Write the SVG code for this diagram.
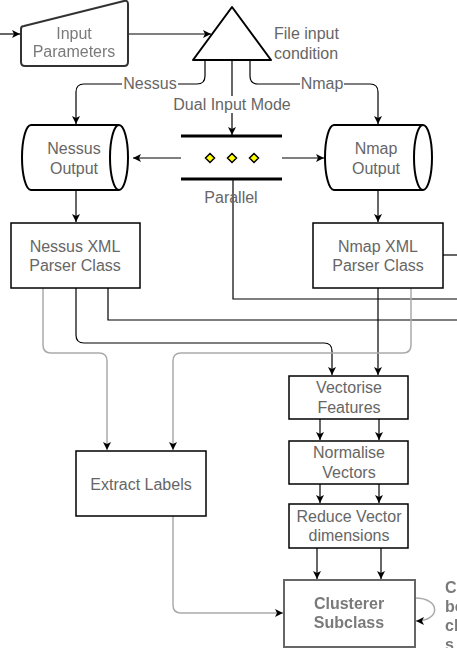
<svg xmlns="http://www.w3.org/2000/svg" width="457" height="648" viewBox="0 0 457 648">
<style>
  text { font-family: "Liberation Sans", Arial, sans-serif; font-size: 16px; fill: #666; text-anchor: middle; }
  .box { fill: #fff; stroke: #000; stroke-width: 1.5; }
  .shape { fill: #fff; stroke: #000; stroke-width: 2; stroke-linejoin: round; }
  .edge { fill: none; stroke: #000; stroke-width: 1.2; }
  .gray { fill: none; stroke: #aaa; stroke-width: 1.5; }
  .lbl { fill: #fff; }
  .fuzzy text { fill: #7a7a7a; }
  .bold text { font-weight: bold; }
</style>
<defs>
  <marker id="arr" markerWidth="10" markerHeight="10" refX="9" refY="5" orient="auto" markerUnits="userSpaceOnUse">
    <path d="M1,1 L9,5 L1,9 L3,5 Z" fill="#000"/>
  </marker>
  <filter id="blur" x="-10%" y="-10%" width="120%" height="120%">
    <feGaussianBlur stdDeviation="0.7"/>
  </filter>
</defs>
<rect width="457" height="648" fill="#fff"/>

<g id="connectors">
  <path class="edge" d="M0,34 L20,34" marker-end="url(#arr)"/>
  <path class="edge" d="M128,34 L211,34" marker-end="url(#arr)"/>
  <path class="edge" stroke="#555" d="M205,60 L205,76 Q205,84 197,84 L84,84 Q76,84 76,92 L76,124" marker-end="url(#arr)"/>
  <path class="edge" stroke="#555" d="M250,60 L250,76 Q250,84 258,84 L370,84 Q378,84 378,92 L378,124" marker-end="url(#arr)"/>
  <path class="edge" d="M232,60 L232,135" marker-end="url(#arr)"/>
  <path class="edge" d="M181,158 L133,158" marker-end="url(#arr)"/>
  <path class="edge" d="M282,158 L324,158" marker-end="url(#arr)"/>
  <path class="edge" d="M76,190 L76,222" marker-end="url(#arr)"/>
  <path class="edge" d="M378,190 L378,222" marker-end="url(#arr)"/>
  <path class="edge" d="M233,179 L233,299 L457,299"/>
  <path class="edge" d="M108,288 L108,320 L457,320"/>
  <path class="edge" d="M443,255 L457,255"/>
  <path class="edge" d="M76,288 L76,335 Q76,343 84,343 L324,343 Q332,343 332,351 L332,375" marker-end="url(#arr)"/>
  <path class="edge" d="M378,288 L378,375" marker-end="url(#arr)"/>
  <path class="gray" d="M43,288 L43,345 Q43,353 51,353 L99,353 Q107,353 107,361 L107,450" marker-end="url(#arr)"/>
  <path class="gray" d="M411,288 L411,345 Q411,353 403,353 L181,353 Q173,353 173,361 L173,450" marker-end="url(#arr)"/>
  <path class="edge" d="M320,419 L320,440" marker-end="url(#arr)"/>
  <path class="edge" d="M379,419 L379,440" marker-end="url(#arr)"/>
  <path class="edge" d="M320,484 L320,503" marker-end="url(#arr)"/>
  <path class="edge" d="M379,484 L379,503" marker-end="url(#arr)"/>
  <path class="edge" d="M317,548 L317,579" marker-end="url(#arr)"/>
  <path class="edge" d="M381,548 L381,579" marker-end="url(#arr)"/>
  <path class="gray" d="M173,516 L173,605 Q173,613 181,613 L283,613" marker-end="url(#arr)"/>
  <g filter="url(#blur)">
    <path class="gray" stroke="#777" d="M415,598 C441,598 441,621 416,621" marker-end="url(#arr)"/>
    <path class="gray" stroke="#777" d="M323,646 L323,648"/>
  </g>
  <rect class="lbl" x="122" y="76" width="56" height="16"/>
  <text x="150" y="89">Nessus</text>
  <rect class="lbl" x="300" y="76" width="44" height="16"/>
  <text x="322" y="89">Nmap</text>
  <rect class="lbl" x="170" y="96" width="124" height="17"/>
  <text x="232" y="110">Dual Input Mode</text>
</g>

<g id="input-parameters" class="fuzzy" filter="url(#blur)">
  <path d="M24,26 L124,1 Q128,0 128,4 L128,62 Q128,66 124,66 L25,66 Q21,66 21,62 L21,29 Q21,26 24,26 Z" fill="#fff" stroke="#333" stroke-width="2"/>
  <text x="74" y="39">Input</text>
  <text x="74" y="57">Parameters</text>
</g>

<g id="file-input-condition">
  <path class="shape" d="M232,7 L271,60 L193,60 Z"/>
  <text x="274" y="39" style="text-anchor:start">File input</text>
  <text x="274" y="59" style="text-anchor:start">condition</text>
</g>

<g id="parallel">
  <path d="M181,136 L282,136 M181,179 L282,179" stroke="#000" stroke-width="3"/>
  <path d="M210,153.5 L214.5,158 L210,162.5 L205.5,158 Z M232,153.5 L236.5,158 L232,162.5 L227.5,158 Z M254,153.5 L258.5,158 L254,162.5 L249.5,158 Z" fill="#ff0" stroke="#000" stroke-width="1.5"/>
  <text x="231" y="203">Parallel</text>
</g>

<g id="nessus-output">
  <path class="shape" d="M31,125 L119,125 A9,32.5 0 0 1 119,190 L31,190 A9,32.5 0 0 1 31,125 Z"/>
  <path class="shape" d="M119,125 A9,32.5 0 0 0 119,190"/>
  <text x="74" y="154">Nessus</text>
  <text x="74" y="174">Output</text>
</g>

<g id="nmap-output">
  <path class="shape" d="M334,125 L423,125 A9,32.5 0 0 1 423,190 L334,190 A9,32.5 0 0 1 334,125 Z"/>
  <path class="shape" d="M423,125 A9,32.5 0 0 0 423,190"/>
  <text x="376" y="154">Nmap</text>
  <text x="376" y="174">Output</text>
</g>

<g id="nessus-xml-parser">
  <rect class="box" x="11" y="223" width="129" height="65"/>
  <text x="75" y="252">Nessus XML</text>
  <text x="75" y="271">Parser Class</text>
</g>

<g id="nmap-xml-parser">
  <rect class="box" x="313" y="223" width="130" height="65"/>
  <text x="378" y="252">Nmap XML</text>
  <text x="378" y="271">Parser Class</text>
</g>

<g id="vectorise-features">
  <rect class="box" x="289" y="376" width="119" height="43"/>
  <text x="349" y="393">Vectorise</text>
  <text x="349" y="413">Features</text>
</g>

<g id="normalise-vectors">
  <rect class="box" x="289" y="441" width="119" height="43"/>
  <text x="349" y="458">Normalise</text>
  <text x="349" y="478">Vectors</text>
</g>

<g id="reduce-vector-dimensions">
  <rect class="box" x="289" y="504" width="119" height="44"/>
  <text x="349" y="522">Reduce Vector</text>
  <text x="349" y="541">dimensions</text>
</g>

<g id="extract-labels">
  <rect class="box" x="76" y="451" width="130" height="65"/>
  <text x="141" y="490">Extract Labels</text>
</g>

<g id="clusterer-subclass" class="fuzzy bold" filter="url(#blur)">
  <rect x="284" y="580" width="131" height="67" fill="#fff" stroke="#666" stroke-width="2"/>
  <text x="349" y="609">Clusterer</text>
  <text x="349" y="628">Subclass</text>
</g>

<g id="cluster-note" class="fuzzy bold" filter="url(#blur)">
  <text x="445" y="593" style="text-anchor:start">C</text>
  <text x="445" y="612" style="text-anchor:start">be</text>
  <text x="445" y="631" style="text-anchor:start">cl</text>
  <text x="445" y="650" style="text-anchor:start">s</text>
</g>
</svg>
